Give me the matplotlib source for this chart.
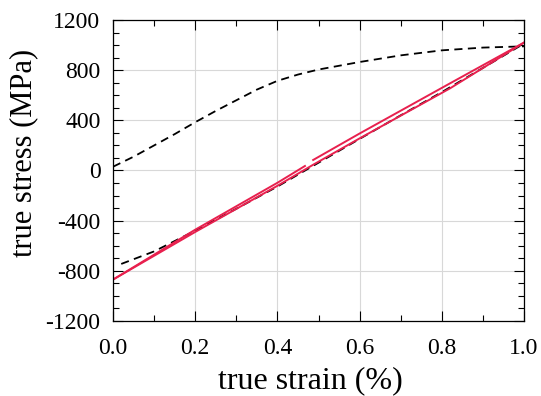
import numpy as np
import matplotlib
matplotlib.use("Agg")
import matplotlib.pyplot as plt
from matplotlib.ticker import MultipleLocator

plt.rcParams['font.family'] = ['Liberation Serif', 'DejaVu Serif']

# monotonic tension curve (dashed)
mono_strain = [0.0, 0.05, 0.1, 0.15, 0.2, 0.25, 0.3, 0.35, 0.4, 0.45, 0.5, 0.6, 0.7, 0.8, 0.9, 1.0]
mono_stress = [30, 110, 200, 290, 385, 475, 560, 645, 715, 765, 805, 865, 918, 958, 980, 990]

# reloading curve (dashed)
rel_strain = [0.02, 0.1, 0.2, 0.3, 0.4, 0.5, 0.6, 0.7, 0.8, 0.9, 1.0]
rel_stress = [-745, -645, -480, -305, -128, 62, 252, 440, 625, 818, 1012]

# cyclic loop (red): upper branch (with a small break) and lower branch
upp_strain = [0.0, 0.2, 0.4, 0.467, np.nan, 0.487, 0.6, 0.82, 1.0]
upp_stress = [-870, -472, -98, 36, np.nan, 84, 295, 695, 1020]
low_strain = [0.0, 0.2, 0.4, 0.487, 0.6, 0.82, 1.0]
low_stress = [-870, -490, -122, 46, 256, 655, 1020]

fig = plt.figure(figsize=(5.41, 3.96), dpi=100)
ax = fig.add_axes([0.2089, 0.1894, 0.7597, 0.7601])

red = '#e8204e'
ax.plot(mono_strain, mono_stress, color='black', lw=1.3, ls=(0, (4.5, 3)))
ax.plot(rel_strain, rel_stress, color='black', lw=1.3, ls=(0, (4.5, 3)))
ax.plot(upp_strain, upp_stress, color=red, lw=1.4)
ax.plot(low_strain, low_stress, color=red, lw=1.4)

ax.set_xlim(0, 1.0)
ax.set_ylim(-1200, 1200)
ax.xaxis.set_major_locator(MultipleLocator(0.2))
ax.xaxis.set_minor_locator(MultipleLocator(0.1))
ax.yaxis.set_major_locator(MultipleLocator(400))
ax.yaxis.set_minor_locator(MultipleLocator(100))
ax.xaxis.set_major_formatter(plt.FuncFormatter(lambda v, p: f'{v:.1f}'))
ax.yaxis.set_major_formatter(plt.FuncFormatter(lambda v, p: f'{v:.0f}'))

ax.grid(True, which='major', color='#d8d8d8', lw=0.8)
ax.tick_params(which='both', direction='in', top=True, right=True, labelsize=17, width=0.8)
ax.tick_params(which='major', length=7)
ax.tick_params(which='minor', length=4)
ax.tick_params(axis='y', pad=9)
ax.tick_params(axis='x', pad=12)
for s in ax.spines.values():
    s.set_linewidth(0.9)

ax.set_xlabel('true strain (%)', fontsize=23)
ax.set_ylabel('true stress (MPa)', fontsize=22)
ax.xaxis.set_label_coords(0.479, -0.15)
ax.yaxis.set_label_coords(-0.182, 0.56)

fig.savefig('out.png', dpi=100)
